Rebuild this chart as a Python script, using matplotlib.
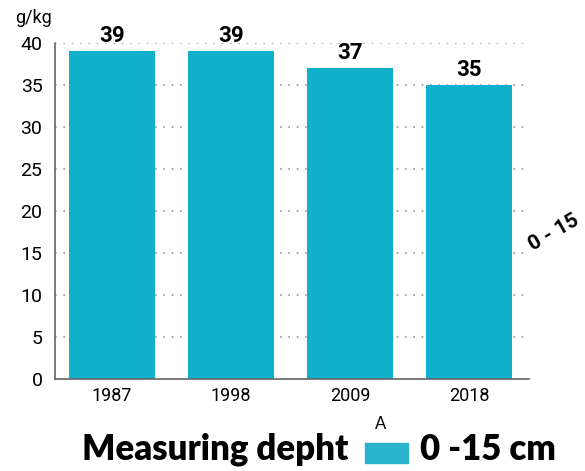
import matplotlib
matplotlib.use('Agg')
import matplotlib.pyplot as plt
from matplotlib.patches import Rectangle

years = ['1987', '1998', '2009', '2018']
values = [39, 39, 37, 35]
yticks = [0, 5, 10, 15, 20, 25, 30, 35, 40]

bar_color = '#11B1CB'
narrow = ['Liberation Sans Narrow', 'Roboto', 'DejaVu Sans']


def main():
    fig = plt.figure(figsize=(5.85, 4.71), dpi=100)
    ax = fig.add_axes([0.094, 0.195, 0.81, 0.714])

    x = range(len(years))
    ax.bar(x, values, width=0.72, color=bar_color, zorder=2)
    ax.set_xlim(-0.48, 3.5)
    ax.set_ylim(0, 40)

    ax.set_yticks(yticks)
    ax.set_yticklabels([str(t) for t in yticks], family=narrow, fontsize=14)
    ax.set_xticks(list(x))
    ax.set_xticklabels(years, family=narrow, fontsize=13)
    ax.tick_params(axis='both', length=0, pad=6)
    ax.tick_params(axis='y', pad=9)

    for sp in ['top', 'right']:
        ax.spines[sp].set_visible(False)
    for sp in ['left', 'bottom']:
        ax.spines[sp].set_color('#666666')
        ax.spines[sp].set_linewidth(1.2)
    ax.yaxis.grid(True, linestyle=(0, (1, 4)), color='#999999', linewidth=1.2, zorder=0)
    ax.set_axisbelow(True)

    for xi, v in zip(x, values):
        ax.text(xi, v + 0.5, str(v), ha='center', va='bottom', family=narrow,
                fontsize=16, fontweight='bold')

    fig.text(0.026, 0.962, 'g/kg', family=narrow, fontsize=13, va='center')

    # rotated side label
    fig.text(0.946, 0.507, '0 - 15', family=narrow, fontsize=15, fontweight='bold',
             rotation=30, ha='center', va='center')

    # bottom legend line
    fig.text(0.14, 0.024, 'Measuring depht', family='Lato', fontsize=25,
             fontweight='heavy', va='baseline')
    fig.patches.append(Rectangle((0.624, 0.017), 0.074, 0.043, transform=fig.transFigure,
                                 color='#29B3CC', figure=fig))
    fig.text(0.65, 0.1, 'A', family='Lato', fontsize=12, ha='center', va='center')
    fig.text(0.718, 0.024, '0 -15 cm', family='Lato', fontsize=25,
             fontweight='heavy', va='baseline')

    plt.savefig('out.png', dpi=100)


if __name__ == "__main__":
    main()
